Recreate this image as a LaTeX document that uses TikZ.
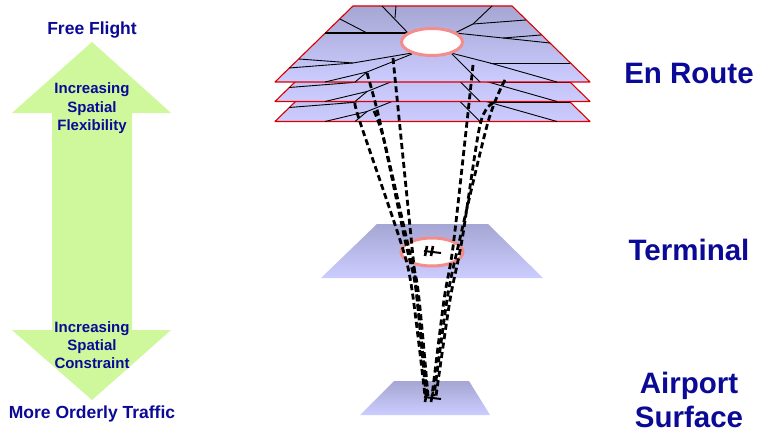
\documentclass[tikz,border=0pt]{standalone}
\usepackage{fontspec}
\setmainfont{Liberation Sans}
\usetikzlibrary{shapes.geometric}
\definecolor{navy}{RGB}{10,10,150}
\definecolor{planetop}{RGB}{166,166,212}
\definecolor{planebot}{RGB}{204,204,255}
\definecolor{rimred}{RGB}{220,0,0}
\definecolor{holo}{RGB}{245,140,140}
\definecolor{arrtip}{RGB}{206,248,155}
\definecolor{arrmid}{RGB}{236,255,212}
\tikzset{
  planefill/.style={top color=planetop,bottom color=planebot},
  planeedge/.style={planefill,draw=rimred,line width=1.1pt,line join=round},
  net/.style={black,line width=0.9pt,line join=round},
  route/.style={black,line width=2.8pt,dash pattern=on 6pt off 3.5pt},
  hub/.style={ellipse,fill=white,draw=holo,line width=3pt,inner sep=0pt},
  lbl/.style={text=navy,font=\bfseries\fontsize{17.5}{20}\selectfont,anchor=base,inner sep=0pt},
  smalllbl/.style={text=navy,font=\bfseries\fontsize{15}{18}\selectfont,anchor=base,inner sep=0pt},
  biglbl/.style={text=navy,font=\bfseries\fontsize{29.5}{34}\selectfont,anchor=base,inner sep=0pt},
  jet/.pic={
    \draw[black,line width=2.6pt] (-7,5) -- (-5,-5);
    \draw[black,line width=2.6pt] (-1,5) -- (1,-5);
    \draw[black,line width=2pt] (-8,0) -- (9,2);
  }
}
\newcommand\routenet{%
  % left side
  \draw[net] (382,6) -- (408,33);
  \draw[net] (396,6) -- (395,18);
  \draw[net,line width=1.3pt] (325,33) -- (408,33);
  \draw[net] (340,19) -- (367,33);
  \draw[net] (289,68) -- (353,63) -- (412,53);
  \draw[net] (299,59) -- (353,63);
  \draw[net] (325,82) -- (367,72) -- (412,54);
  \draw[net] (355,82) -- (367,72);
  % right side
  \draw[net] (492,6) -- (473,24) -- (455,33);
  \draw[net] (473,24) -- (526,20);
  \draw[net] (455,33) -- (503,38) -- (550,43);
  \draw[net] (503,38) -- (541,35);
  \draw[net] (451,53) -- (490,63) -- (557,82);
  \draw[net] (490,63) -- (570,63);
  \draw[net] (451,53) -- (480,82);
}
\begin{document}
\begin{tikzpicture}[x=1pt,y=-1pt]
\useasboundingbox (0,0) rectangle (763,436);
\fill[white] (0,0) rectangle (763,436);

% double arrow
\path[top color=arrtip,middle color=arrmid,bottom color=arrtip]
  (92,42) -- (171,113) -- (132,113) -- (132,330) -- (171,330) -- (92,400)
  -- (12,330) -- (52,330) -- (52,113) -- (12,113) -- cycle;

\node[lbl] (free) at (92,35) {Free Flight};
\node[lbl] (orderly) at (92,418) {More Orderly Traffic};
\node[smalllbl] (flex1) at (92,93.5) {Increasing};
\node[smalllbl] (flex2) at (92,112) {Spatial};
\node[smalllbl] (flex3) at (92,130.5) {Flexibility};
\node[smalllbl] (con1) at (92,332) {Increasing};
\node[smalllbl] (con2) at (92,350) {Spatial};
\node[smalllbl] (con3) at (92,368) {Constraint};

% en route planes
\foreach \dy in {39.5,19.5,0} {
  \begin{scope}[shift={(0,\dy)}]
    \path[planeedge] (353,6) -- (512,6) -- (590,82) -- (275,82) -- cycle;
    \routenet
  \end{scope}
}
\node[hub,minimum width=61pt,minimum height=27pt] (enroutehub) at (432,42) {};

% terminal plane
\path[planefill] (377,224) -- (488,224) -- (543,278) -- (321,278) -- cycle;
\node[hub,minimum width=62pt,minimum height=28pt] (termhub) at (432,252) {};
\pic at (432,251) {jet};

% airport plane
\path[planefill] (394,381) -- (469,381) -- (490,415) -- (360,415) -- cycle;

% routes
\coordinate (apL) at (427,396);
\coordinate (apR) at (434,396);
\draw[route] (393,58) -- (apL);
\draw[route] plot[smooth] coordinates {(367,73) (380,122) (405,240) (416,290) (426,396)};
\draw[route] plot[smooth] coordinates {(374,111) (384,140) (408,245) (418,290) (428,396)};
\draw[route] plot[smooth] coordinates {(355,103) (360,122) (401,243) (412,290) (425,396)};
\draw[route] plot[smooth] coordinates {(473,65) (467,122) (453,247) (444,300) (432,396)};
\draw[route] plot[smooth] coordinates {(505,80) (488,122) (458,247) (447,300) (apR)};
\draw[route] plot[smooth] coordinates {(493,103) (480,125) (462,240) (450,300) (436,396)};
\pic at (432,397) {jet};

% level labels
\node[biglbl] (enroute) at (689,84) {En Route};
\node[biglbl] (terminal) at (689,260) {Terminal};
\node[biglbl] (airport) at (689,393) {Airport};
\node[biglbl] (surface) at (689,427) {Surface};
\end{tikzpicture}
\end{document}
